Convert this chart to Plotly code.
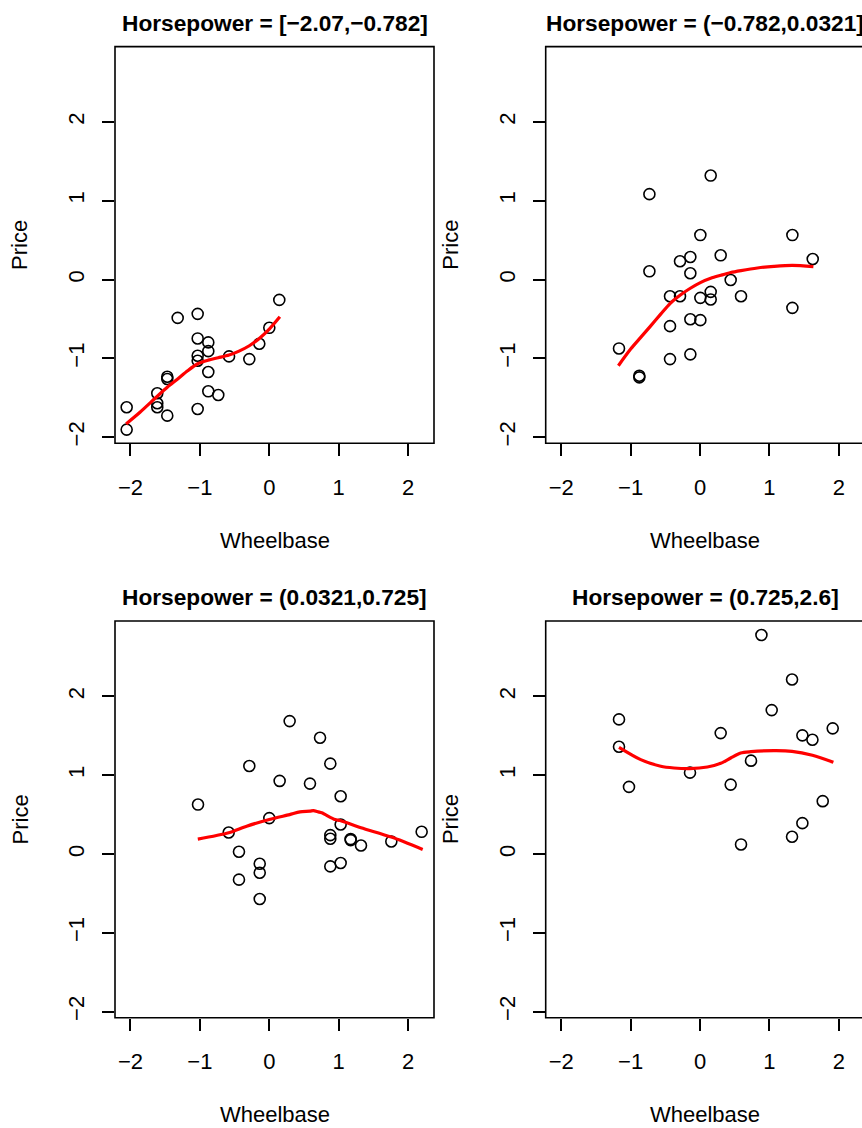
import plotly.graph_objects as go

# ---- data: standardized Wheelbase vs Price, split by Horsepower interval ----
panel_titles = [
    "Horsepower = [\u22122.07,\u22120.782]",
    "Horsepower = (\u22120.782,0.0321]",
    "Horsepower = (0.0321,0.725]",
    "Horsepower = (0.725,2.6]",
]

wb_1 = [-2.055, -2.055, -1.614, -1.614, -1.614, -1.47, -1.47, -1.47, -1.32, -1.032,
        -1.032, -1.032, -1.032, -1.032, -0.879, -0.879, -0.879, -0.879, -0.735, -0.58,
        -0.288, -0.144, 0.0, 0.144]
price_1 = [-1.62, -1.904, -1.443, -1.57, -1.62, -1.727, -1.233, -1.262, -0.486, -0.435,
           -0.747, -0.967, -1.03, -1.642, -0.797, -0.908, -1.173, -1.418, -1.465, -0.975,
           -1.009, -0.815, -0.612, -0.258]
fit_x_1 = [-2.063, -1.863, -1.614, -1.47, -1.32, -1.177, -1.032, -0.879, -0.735, -0.58,
           -0.436, -0.288, -0.144, 0.0, 0.152]
fit_y_1 = [-1.832, -1.684, -1.481, -1.367, -1.262, -1.157, -1.068, -1.022, -0.992, -0.958,
           -0.908, -0.84, -0.747, -0.629, -0.473]

wb_2 = [-1.167, -0.874, -0.874, -0.729, -0.729, -0.432, -0.432, -0.432, -0.288, -0.288,
        -0.139, -0.139, -0.139, -0.139, 0.005, 0.005, 0.005, 0.154, 0.154, 0.154,
        0.298, 0.442, 0.591, 1.331, 1.331, 1.624]
price_2 = [-0.874, -1.22, -1.241, 1.084, 0.105, -0.211, -0.591, -1.009, 0.232, -0.211,
           0.286, 0.08, -0.503, -0.949, 0.565, -0.232, -0.515, 1.32, -0.156, -0.253,
           0.308, -0.005, -0.211, 0.565, -0.359, 0.261]
fit_x_2 = [-1.176, -0.999, -0.854, -0.71, -0.566, -0.432, -0.288, -0.139, 0.005, 0.154,
           0.298, 0.442, 0.591, 0.827, 1.066, 1.331, 1.634]
fit_y_2 = [-1.093, -0.882, -0.734, -0.587, -0.439, -0.304, -0.199, -0.11, -0.038, 0.016,
           0.054, 0.089, 0.114, 0.147, 0.168, 0.181, 0.164]

wb_3 = [-1.027, -0.585, -0.437, -0.437, -0.288, -0.138, -0.138, -0.138, 0.0, 0.149,
        0.293, 0.586, 0.731, 0.879, 0.879, 0.879, 0.879, 1.028, 1.028, 1.028,
        1.172, 1.172, 1.321, 1.758, 2.195]
price_3 = [0.628, 0.274, 0.029, -0.325, 1.118, -0.123, -0.237, -0.57, 0.456, 0.928,
           1.687, 0.894, 1.476, 1.147, 0.24, 0.194, -0.157, 0.734, 0.375, -0.114,
           0.19, 0.177, 0.109, 0.16, 0.282]
fit_x_3 = [-1.03, -0.585, -0.326, 0.0, 0.293, 0.442, 0.586, 0.634, 0.706, 0.755,
           0.947, 1.019, 1.321, 1.758, 2.21]
fit_y_3 = [0.19, 0.27, 0.354, 0.438, 0.501, 0.535, 0.544, 0.552, 0.535, 0.523,
           0.438, 0.425, 0.333, 0.215, 0.058]

wb_4 = [-1.167, -1.167, -1.023, -0.144, 0.298, 0.442, 0.591, 0.735, 0.885, 1.033,
        1.326, 1.326, 1.475, 1.475, 1.62, 1.768, 1.912]
price_4 = [1.709, 1.362, 0.852, 1.033, 1.535, 0.881, 0.122, 1.185, 2.78, 1.827,
           2.215, 0.219, 1.506, 0.392, 1.451, 0.671, 1.595]
fit_x_4 = [-1.167, -0.854, -0.566, -0.375, -0.144, 0.106, 0.298, 0.442, 0.586, 0.735,
           1.066, 1.326, 1.62, 1.922]
fit_y_4 = [1.354, 1.198, 1.114, 1.092, 1.084, 1.105, 1.152, 1.219, 1.282, 1.299,
           1.312, 1.304, 1.253, 1.164]

tick_vals = [-2, -1, 0, 1, 2]
tick_text = ["\u22122", "\u22121", "0", "1", "2"]
x_label = "Wheelbase"
y_label = "Price"

# ---- layout geometry (pixels) ----
W, H = 862, 1128
FONT = "Liberation Sans, Arial, Helvetica, sans-serif"


def fx(px):
    return px / W


def fy(py):
    return 1 - py / H


PX_PER_X = 69.41
X0 = -2.223
BOX_W = 319.0
boxes = [  # left, top, bottom in pixels; every box is BOX_W wide
    (115.0, 46.7, 444.5),
    (545.7, 46.7, 444.5),
    (115.0, 622.7, 1020.5),
    (545.7, 622.7, 1020.5),
]
Y_RANGE = [-2.078, 2.957]

panels = [
    (wb_1, price_1, fit_x_1, fit_y_1),
    (wb_2, price_2, fit_x_2, fit_y_2),
    (wb_3, price_3, fit_x_3, fit_y_3),
    (wb_4, price_4, fit_x_4, fit_y_4),
]

fig = go.Figure()
annotations = []
shapes = []
layout = {}

for i, ((xs, ys, fxs, fys), (l, t, b)) in enumerate(zip(panels, boxes)):
    n = "" if i == 0 else str(i + 1)
    xa, ya = "x" + n, "y" + n
    r_full = l + BOX_W           # true right edge of the frame
    r_vis = min(r_full, W)       # part that fits on the page
    fig.add_trace(go.Scatter(
        x=xs, y=ys, mode="markers", xaxis=xa, yaxis=ya,
        marker=dict(symbol="circle-open", size=11, color="black",
                    line=dict(width=1.6)),
        showlegend=False, hoverinfo="skip"))
    fig.add_trace(go.Scatter(
        x=fxs, y=fys, mode="lines", xaxis=xa, yaxis=ya,
        line=dict(color="#ff0000", width=3.2, shape="spline", smoothing=0.8),
        showlegend=False, hoverinfo="skip"))

    common = dict(showgrid=False, zeroline=False, showline=False,
                  ticks="outside", ticklen=12,
                  tickwidth=1.5, tickcolor="black", tickvals=tick_vals,
                  ticktext=tick_text, fixedrange=True,
                  tickfont=dict(family=FONT, size=22, color="black"))
    layout["xaxis" + n] = dict(
        common, domain=[fx(l), fx(r_vis)], anchor=ya,
        range=[X0, X0 + (r_vis - l) / PX_PER_X], ticklabelstandoff=12)
    layout["yaxis" + n] = dict(
        common, domain=[fy(b), fy(t)], anchor=xa,
        range=Y_RANGE, tickangle=-90, ticklabelstandoff=9)

    # frame around the plotting region (may run past the page edge)
    shapes.append(dict(type="rect", xref="paper", yref="paper",
                       x0=fx(l), x1=fx(r_full), y0=fy(b), y1=fy(t),
                       line=dict(color="black", width=1.6),
                       fillcolor="rgba(0,0,0,0)", layer="above"))

    cx = l + BOX_W / 2
    annotations.append(dict(
        text="<b>" + panel_titles[i] + "</b>", xref="paper", yref="paper",
        x=fx(cx), y=fy(t - 24), xanchor="center", yanchor="middle",
        showarrow=False, font=dict(family=FONT, size=22.7, color="black")))
    annotations.append(dict(
        text=x_label, xref="paper", yref="paper",
        x=fx(cx), y=fy(b + 97), xanchor="center", yanchor="middle",
        showarrow=False, font=dict(family=FONT, size=22, color="black")))
    annotations.append(dict(
        text=y_label, xref="paper", yref="paper", textangle=-90,
        x=fx(l - 95), y=fy((t + b) / 2), xanchor="center", yanchor="middle",
        showarrow=False, font=dict(family=FONT, size=22, color="black")))

fig.update_layout(
    width=W, height=H,
    margin=dict(l=0, r=0, t=0, b=0),
    paper_bgcolor="white", plot_bgcolor="white",
    annotations=annotations,
    shapes=shapes,
    **layout,
)

fig.write_html("out.html", config={"displayModeBar": False})
